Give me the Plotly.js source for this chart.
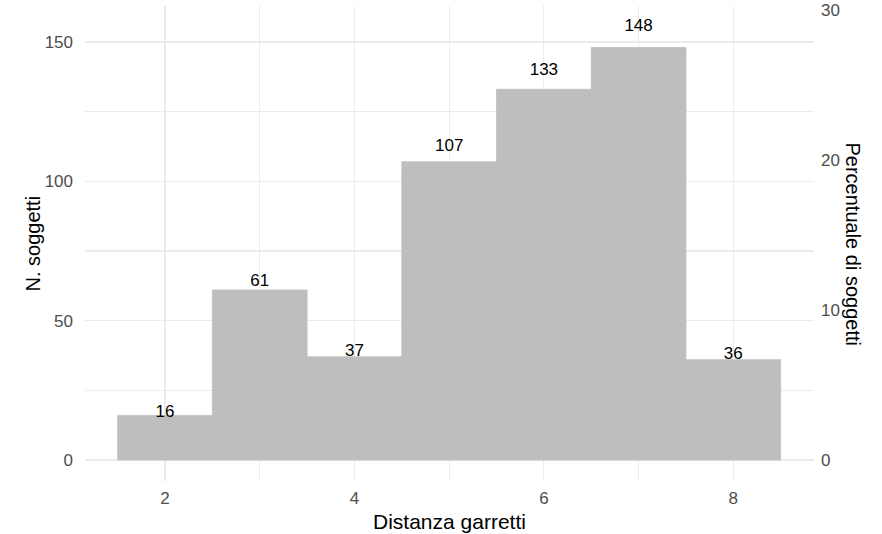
<!DOCTYPE html>
<html>
<head>
<meta charset="utf-8">
<script src="https://cdn.plot.ly/plotly-3.0.1.min.js"></script>
<style>html,body{margin:0;padding:0;background:#fff;}#chart{width:882px;height:534px;}</style>
</head>
<body>
<div id="chart"></div>
<script>
// Data
const distanza = [2, 3, 4, 5, 6, 7, 8];
const nSoggetti = [16, 61, 37, 107, 133, 148, 36];
const xTicks = [2, 4, 6, 8];
const yTicks = [0, 50, 100, 150];
const pctTicks = [0, 10, 20, 30];

const total = nSoggetti.reduce((a, b) => a + b, 0);
const pct = nSoggetti.map(v => v / total * 100);
const labelY = nSoggetti.map(v => v * 1.05);

const FONT = 'Liberation Sans, Arial, sans-serif';
const yRange = [-7.54, 162.9];
const pctRange = yRange.map(v => v / total * 100);

const traces = [
  {
    type: 'bar', x: distanza, y: nSoggetti, width: 1,
    marker: {color: '#BEBEBE', line: {width: 0.8, color: '#BEBEBE'}},
    hoverinfo: 'x+y', showlegend: false
  },
  {
    type: 'scatter', mode: 'text', x: distanza, y: labelY,
    text: nSoggetti.map(String), textposition: 'middle center',
    textfont: {family: FONT, size: 17, color: '#000000'},
    hoverinfo: 'skip', showlegend: false
  },
  {
    type: 'scatter', mode: 'markers', x: distanza, y: pct, yaxis: 'y2',
    marker: {opacity: 0, size: 1}, hoverinfo: 'skip', showlegend: false
  }
];

const gridC = '#EBEBEB';
const layout = {
  width: 882, height: 534,
  margin: {l: 85, r: 68, t: 6, b: 53},
  paper_bgcolor: '#FFFFFF', plot_bgcolor: '#FFFFFF',
  font: {family: FONT},
  xaxis: {
    range: [1.155, 8.852], tickvals: xTicks, ticktext: xTicks.map(String),
    showgrid: true, gridcolor: gridC, gridwidth: 1.2, zeroline: false,
    showline: false, ticks: '', ticklen: 0, ticklabelstandoff: 5,
    tickfont: {family: FONT, size: 17, color: '#4D4D4D'},
    minor: {tickvals: [3, 5, 7], showgrid: true, gridcolor: gridC, gridwidth: 1.2, ticks: ''}
  },
  yaxis: {
    range: yRange, tickvals: yTicks, ticktext: yTicks.map(String),
    showgrid: true, gridcolor: gridC, gridwidth: 1.2, zeroline: false,
    showline: false, ticks: '', ticklen: 0, ticklabelstandoff: 11,
    tickfont: {family: FONT, size: 17, color: '#4D4D4D'},
    minor: {tickvals: [25, 75, 125], showgrid: true, gridcolor: gridC, gridwidth: 1.2, ticks: ''}
  },
  yaxis2: {
    overlaying: 'y', side: 'right', range: pctRange,
    tickvals: pctTicks, ticktext: pctTicks.map(String),
    showgrid: false, zeroline: false, showline: false, ticks: '', ticklabelstandoff: 6,
    tickfont: {family: FONT, size: 17, color: '#4D4D4D'}
  },
  annotations: [
    {text: 'Distanza garretti', xref: 'paper', yref: 'paper', x: 0.5, y: 0,
     xanchor: 'center', yanchor: 'middle', yshift: -40, showarrow: false,
     font: {family: FONT, size: 21, color: '#000000'}},
    {text: 'N. soggetti', xref: 'paper', yref: 'paper', x: 0, y: 0.5,
     xanchor: 'center', yanchor: 'middle', xshift: -53, textangle: -90, showarrow: false,
     font: {family: FONT, size: 20, color: '#000000'}},
    {text: 'Percentuale di soggetti', xref: 'paper', yref: 'paper', x: 1, y: 0.5,
     xanchor: 'center', yanchor: 'middle', xshift: 39, textangle: 90, showarrow: false,
     font: {family: FONT, size: 20, color: '#000000'}}
  ]
};

Plotly.newPlot('chart', traces, layout, {staticPlot: true, displayModeBar: false});
</script>
</body>
</html>
